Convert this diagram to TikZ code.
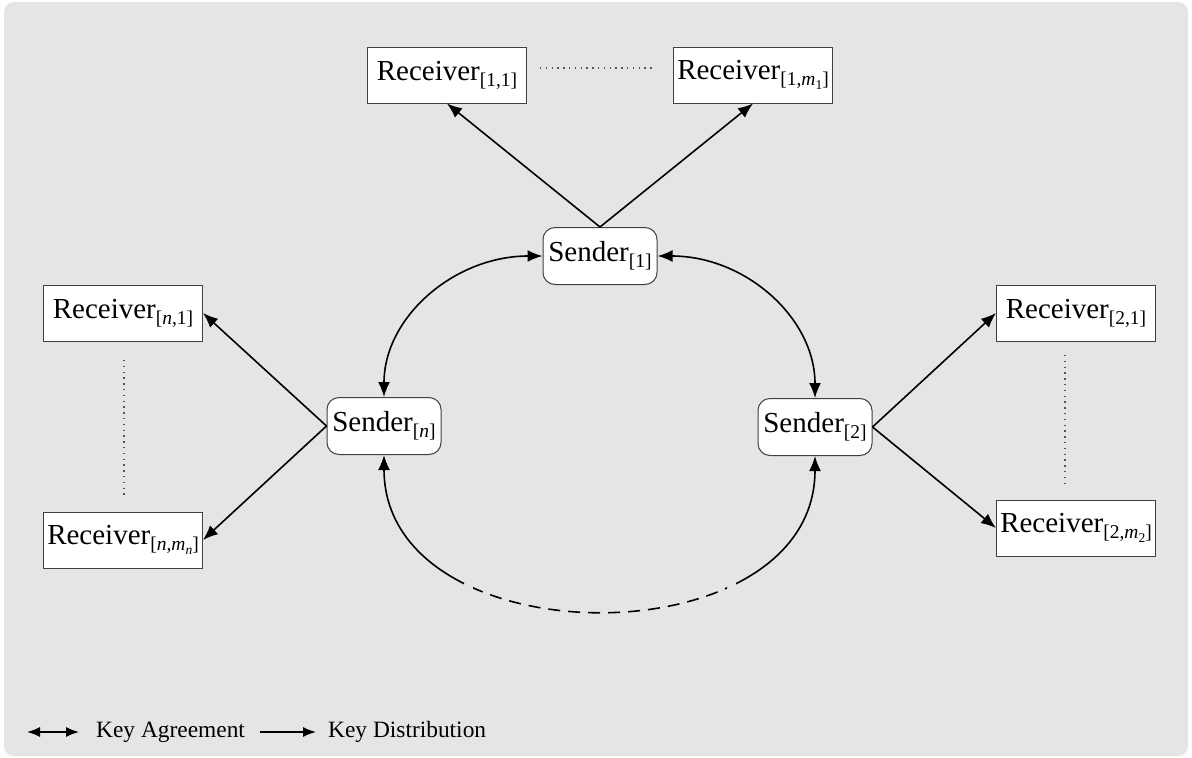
\documentclass[tikz,border=0pt]{standalone}
\usepackage{fontspec}
\setmainfont{Liberation Serif}
\usetikzlibrary{arrows.meta}
\definecolor{bgc}{HTML}{E5E5E5}
\definecolor{boxc}{HTML}{404040}
\definecolor{dotc}{HTML}{555555}
\newcommand{\mysb}[1]{\raisebox{-0.2em}{\fontsize{19.5}{20}\selectfont #1}}
\newcommand{\mysbb}[1]{\raisebox{-0.18em}{\fontsize{13.5}{14}\selectfont #1}}
\tikzset{
  recv/.style={draw=boxc, fill=white, line width=1pt, minimum width=159pt, minimum height=56pt, inner sep=0pt, font=\fontsize{29}{31}\selectfont},
  sendbox/.style={recv, rounded corners=12pt, minimum width=114pt, minimum height=57pt},
  arr/.style={line width=1.6pt, -{Latex[length=15pt,width=12pt]}},
  barr/.style={line width=1.6pt, {Latex[length=15pt,width=12pt]}-{Latex[length=15pt,width=12pt]}},
  legarr/.style={line width=1.5pt, -{Latex[length=13pt,width=10pt]}},
  leglarr/.style={line width=1.5pt, {Latex[length=13pt,width=10pt]}-{Latex[length=13pt,width=10pt]}},
  dots/.style={dotc, line width=1.3pt, dash pattern=on 1.3pt off 4.5pt},
  legtext/.style={anchor=west, inner sep=0pt, font=\fontsize{23.4}{26}\selectfont}
}
\begin{document}
\begin{tikzpicture}[x=1pt,y=-1pt]
\useasboundingbox (0,0) rectangle (1192,758);
\fill[bgc, rounded corners=10pt] (4,2) rectangle (1188,756);

% nodes
\node[recv] (r11) at (447,75) {Receiver\mysb{[1,1]}};
\node[recv] (r1m) at (753,75) {Receiver\mysb{[1,\textit{m}\mysbb{1}]}};
\node[sendbox] (s1) at (600,256) {Sender\mysb{[1]}};
\node[recv] (rn1) at (123,313) {Receiver\mysb{[\textit{n},1]}};
\node[recv] (rnm) at (123,540) {Receiver\mysb{[\textit{n},\textit{m}\mysbb{\textit{n}}]}};
\node[sendbox] (sn) at (384,426) {Sender\mysb{[\textit{n}]}};
\node[sendbox] (s2) at (815,427) {Sender\mysb{[2]}};
\node[recv] (r21) at (1076,313) {Receiver\mysb{[2,1]}};
\node[recv] (r2m) at (1076,528) {Receiver\mysb{[2,\textit{m}\mysbb{2}]}};

% dotted ellipses
\coordinate (d1a) at (540,68);
\coordinate (d1b) at (655,68);
\coordinate (dna) at (124,360);
\coordinate (dnb) at (124,498);
\coordinate (d2a) at (1065,355);
\coordinate (d2b) at (1065,485);
\draw[dots] (d1a) -- (d1b);
\draw[dots] (dna) -- (dnb);
\draw[dots] (d2a) -- (d2b);

% key distribution
\draw[arr] (s1.north) -- (r11.south);
\draw[arr] (s1.north) -- (r1m.south);
\draw[arr] (sn.west) -- (rn1.east);
\draw[arr] (sn.west) -- (rnm.east);
\draw[arr] (s2.east) -- (r21.west);
\draw[arr] (s2.east) -- (r2m.west);

% key agreement
\draw[barr] (s1.west) .. controls +(-88,0) and +(0,-80) .. (sn.north);
\draw[barr] (s1.east) .. controls +(88,0) and +(0,-80) .. (s2.north);

\begin{scope}
\clip (0,0) rectangle (464,758);
\draw[barr] (sn.south) .. controls +(0,205) and +(0,205) .. (s2.south);
\end{scope}
\begin{scope}
\clip (736,0) rectangle (1192,758);
\draw[barr] (sn.south) .. controls +(0,205) and +(0,205) .. (s2.south);
\end{scope}
\begin{scope}
\clip (473,0) rectangle (727,758);
\draw[barr, dash pattern=on 12pt off 8pt, dash phase=4pt] (sn.south) .. controls +(0,205) and +(0,205) .. (s2.south);
\end{scope}

% legend
\coordinate (la1) at (27,732);
\coordinate (la2) at (79,732);
\coordinate (lb1) at (260,732);
\coordinate (lb2) at (316,732);
\draw[leglarr] (la1) -- (la2);
\node[legtext] (lta) at (96,732) {Key Agreement};
\draw[legarr] (lb1) -- (lb2);
\node[legtext] (ltb) at (328,732) {Key Distribution};
\end{tikzpicture}
\end{document}
